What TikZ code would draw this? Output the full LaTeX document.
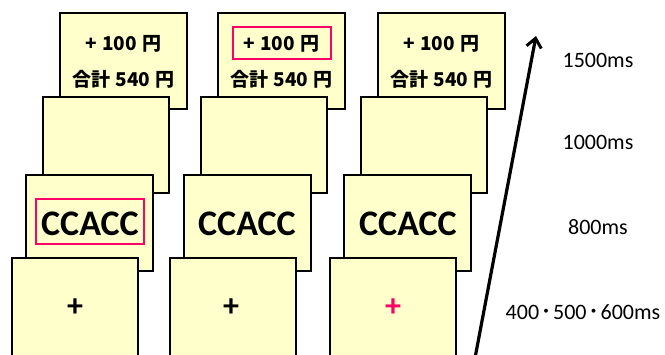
\documentclass[tikz,border=0pt]{standalone}
\usepackage{fontspec}
\setmainfont{Carlito}
\newfontfamily\jpfont{Noto Sans CJK JP}
\usetikzlibrary{arrows.meta}
\definecolor{cardfill}{HTML}{FFFFCC}
\definecolor{hl}{HTML}{FF0066}
\newcommand{\mdot}{\raisebox{2.5pt}{\jpfont\bfseries\fontsize{14}{14}\selectfont ・}}
\newcommand{\gap}{\hspace{5pt}}
\begin{document}
\begin{tikzpicture}[x=1pt,y=-1pt,
  card/.style={draw=black,line width=1.6pt,fill=cardfill},
  hlbox/.style={draw=hl,line width=1.3pt},
  fb/.style={font=\jpfont\bfseries\fontsize{19}{19}\selectfont},
  big/.style={font=\bfseries\fontsize{36}{36}\selectfont},
  fix/.style={font=\bfseries\fontsize{32}{32}\selectfont},
  lab/.style={font=\fontsize{22}{22}\selectfont}]
\useasboundingbox (0,0) rectangle (665,354);
\foreach \i/\dx in {1/0,2/158,3/318}{
  \begin{scope}[xshift=\dx pt]
  \draw[card] (60,13) rectangle (187,109);
  \draw[card] (43,97) rectangle (169,193);
  \draw[card] (26,175) rectangle (153,271);
  \draw[card] (12,258) rectangle (138,360);
  \end{scope}
}
% feedback texts
\node[fb] (fa1) at (123.5,44) {+\gap{}100\gap{}円};
\node[fb] (fb1) at (123.5,79) {合計\gap{}540\gap{}円};
\node[fb] (fa2) at (281.5,44) {+\gap{}100\gap{}円};
\node[fb] (fb2) at (281.5,79) {合計\gap{}540\gap{}円};
\node[fb] (fa3) at (441.5,44) {+\gap{}100\gap{}円};
\node[fb] (fb3) at (441.5,79) {合計\gap{}540\gap{}円};
\draw[hlbox] (233,27) rectangle (331,59);
% stimuli
\node[big] (s1) at (90,224) {CCACC};
\node[big] (s2) at (247,224) {CCACC};
\node[big] (s3) at (408,224) {CCACC};
\draw[hlbox] (36,199) rectangle (144,244);
% fixations
\node[fix] (p1) at (75,308) {+};
\node[fix] (p2) at (231,308) {+};
\node[fix,text=hl] (p3) at (393,308) {+};
% time arrow
\coordinate (ta) at (475,358);
\coordinate (tb) at (536,36);
\draw[line width=3.2pt,-{Straight Barb[length=9pt,width=15pt,line width=3pt]}] (ta) -- (tb);
% labels
\node[lab] (l1) at (598,60) {1500ms};
\node[lab] (l2) at (598,142) {1000ms};
\node[lab] (l3) at (598,227) {800ms};
\node[lab] (l4) at (583,312) {400\mdot{}500\mdot{}600ms};
\end{tikzpicture}
\end{document}
